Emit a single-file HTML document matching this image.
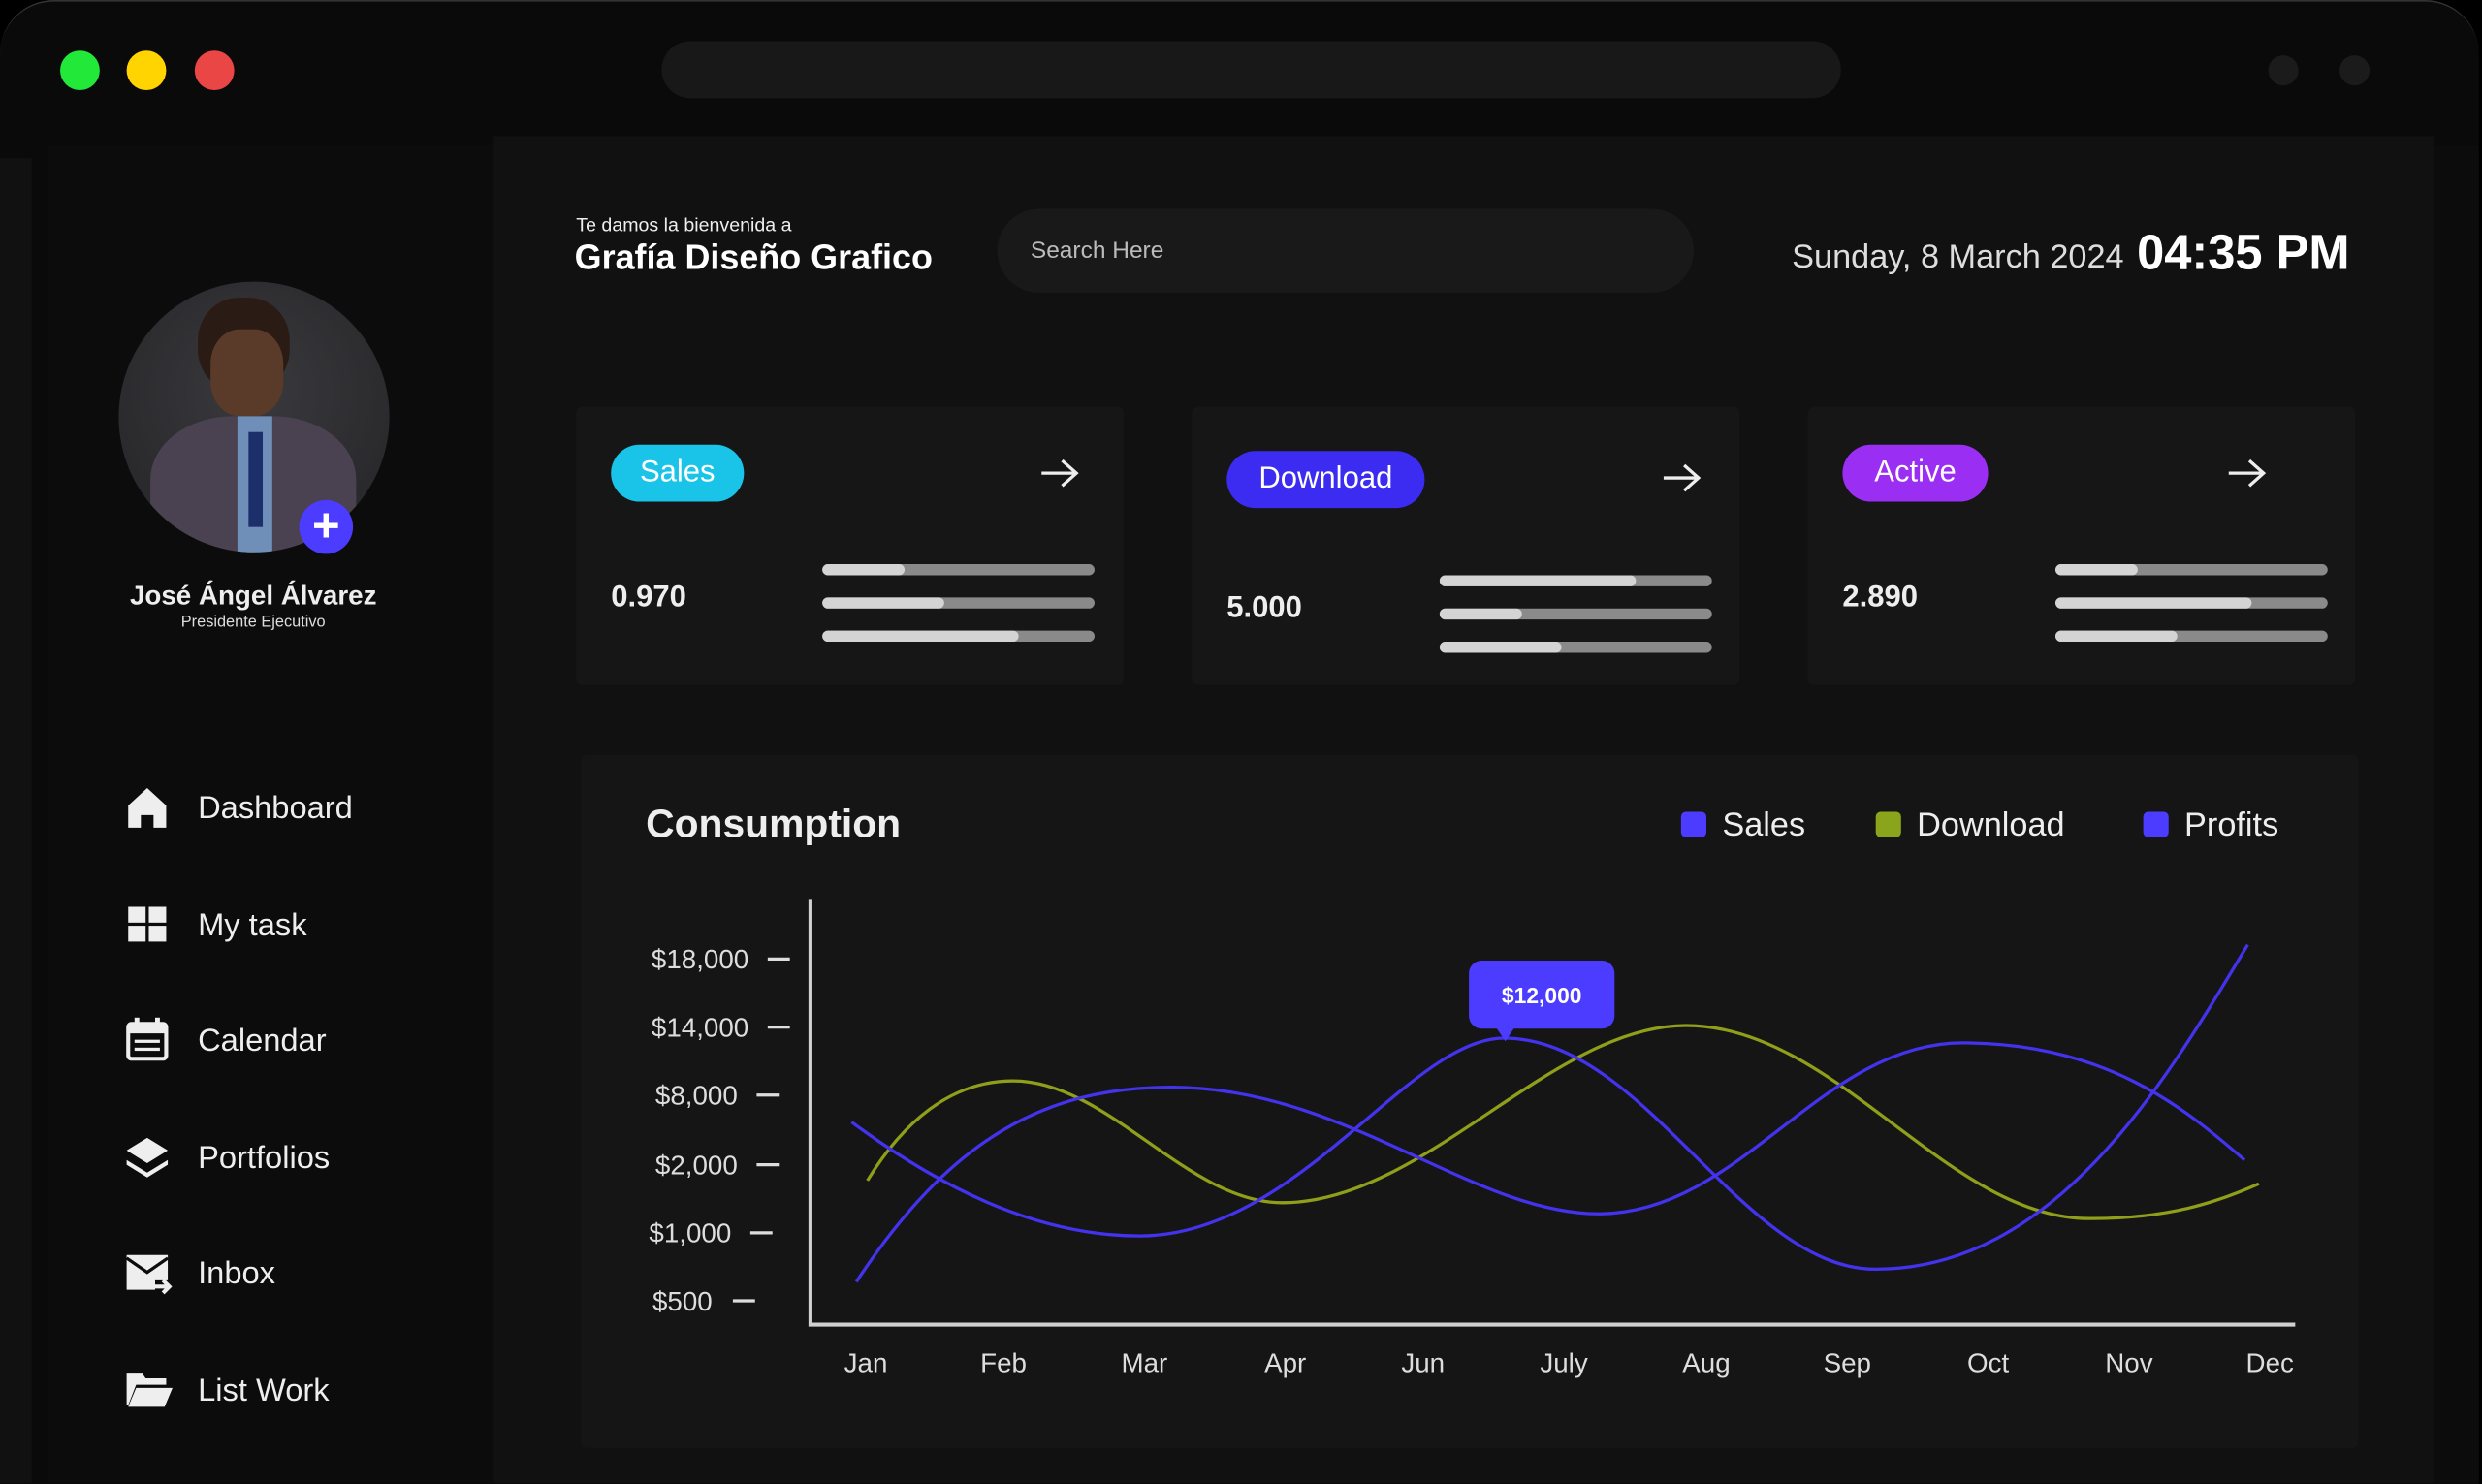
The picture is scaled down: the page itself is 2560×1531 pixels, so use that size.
<!DOCTYPE html>
<html><head><meta charset="utf-8"><style>
html,body{margin:0;padding:0;background:#000;width:2560px;height:1530px;overflow:hidden}
#s{position:absolute;left:0;top:0;width:1568px;height:937px;transform:scale(1.63265);transform-origin:0 0;font-family:"Liberation Sans",sans-serif;color:#eee}
.a{position:absolute}
.t{position:absolute;white-space:nowrap}
</style></head><body><div id="s">
<div class="a" style="left:0;top:0;width:1566px;height:937px;background:#0a0a0a;border-radius:34px 34px 0 0;border-top:1px solid #333"></div>
<div class="a" style="left:38px;top:32px;width:25px;height:25px;border-radius:50%;background:#22e83a"></div>
<div class="a" style="left:80px;top:32px;width:25px;height:25px;border-radius:50%;background:#ffd400"></div>
<div class="a" style="left:123px;top:32px;width:25px;height:25px;border-radius:50%;background:#ea4646"></div>
<div class="a" style="left:418px;top:26px;width:745px;height:36px;border-radius:18px;background:#181818"></div>
<div class="a" style="left:1433px;top:35px;width:19px;height:19px;border-radius:50%;background:#1b1b1b"></div>
<div class="a" style="left:1478px;top:35px;width:19px;height:19px;border-radius:50%;background:#1b1b1b"></div>
<div class="a" style="left:0;top:100px;width:20px;height:837px;background:#111"></div>
<div class="a" style="left:30px;top:92px;width:282px;height:845px;background:#0c0c0c"></div>
<div class="a" style="left:312px;top:86px;width:1226px;height:851px;background:#111"></div>
<div class="a" style="left:1538px;top:92px;width:28px;height:845px;background:#0c0c0c"></div>
<!-- avatar -->
<div class="a" style="left:75px;top:178px;width:171px;height:171px;border-radius:50%;background:radial-gradient(circle at 50% 40%,#3a3a3e,#232326);overflow:hidden">
 <div class="a" style="left:50px;top:10px;width:58px;height:60px;border-radius:45%;background:#2a1b14"></div>
 <div class="a" style="left:58px;top:30px;width:46px;height:55px;border-radius:40%;background:#5a3a28"></div>
 <div class="a" style="left:20px;top:85px;width:130px;height:100px;border-radius:40% 40% 0 0;background:#4a4250"></div>
 <div class="a" style="left:75px;top:85px;width:22px;height:90px;background:#6f8fb8"></div>
 <div class="a" style="left:82px;top:95px;width:9px;height:60px;background:#1c2f6a"></div>
</div>
<div class="a" style="left:189px;top:316px;width:34px;height:34px;border-radius:50%;background:#4b3cff"></div>
<div class="t" style="left:189px;top:316px;width:34px;line-height:34px;text-align:center;font-size:30px;font-weight:bold;color:#fff">+</div>
<div class="t" style="left:60px;width:200px;text-align:center;top:367px;font-size:17px;font-weight:bold;color:#eee">José Ángel Álvarez</div>
<div class="t" style="left:60px;width:200px;text-align:center;top:388px;font-size:10px;color:#ddd">Presidente Ejecutivo</div>
<!-- nav -->
<svg class="a" style="left:78px;top:495px" width="32" height="410" viewBox="0 0 32 410" fill="#eee">
<path d="M3,14 L15,3 L27,14 L27,28 L19,28 L19,20 L11,20 L11,28 L3,28Z"/>
<rect x="3" y="78" width="11" height="10"/><rect x="16" y="78" width="11" height="10"/><rect x="3" y="90" width="11" height="10"/><rect x="16" y="90" width="11" height="10"/>
<rect x="3" y="152" width="24" height="22" rx="2" fill="none" stroke="#eee" stroke-width="2.5"/><rect x="3" y="152" width="24" height="6"/><rect x="7" y="148" width="3" height="6"/><rect x="20" y="148" width="3" height="6"/><rect x="7" y="162" width="16" height="2"/><rect x="7" y="167" width="16" height="2"/>
<path d="M15,224 L28,232 L15,240 L2,232Z"/><path d="M2,238 L15,246 L28,238 L28,241 L15,249 L2,241Z"/>
<path d="M2,298 L28,298 L28,314 L20,314 L20,320 L2,320Z"/><path d="M2,300 L15,309 L28,300" stroke="#0c0c0c" stroke-width="2" fill="none"/><path d="M20,318 L29,318 M25,314 L29,318 L25,322" stroke="#eee" stroke-width="2.5" fill="none"/>
<path d="M2,373 L12,373 L14,376 L27,376 L27,380 L8,380 L3,393 L2,393Z"/><path d="M8,382 L31,382 L26,394 L3,394Z"/>
</svg>
<div class="t" style="left:125px;top:500px;font-size:20px;color:#eee">Dashboard</div>
<div class="t" style="left:125px;top:574px;font-size:20px;color:#eee">My task</div>
<div class="t" style="left:125px;top:647px;font-size:20px;color:#eee">Calendar</div>
<div class="t" style="left:125px;top:721px;font-size:20px;color:#eee">Portfolios</div>
<div class="t" style="left:125px;top:794px;font-size:20px;color:#eee">Inbox</div>
<div class="t" style="left:125px;top:868px;font-size:20px;color:#eee">List Work</div>
<!-- header -->
<div class="t" style="left:364px;top:135px;font-size:12px;color:#eee">Te damos la bienvenida a</div>
<div class="t" style="left:363px;top:150px;font-size:22px;font-weight:bold;color:#fff">Grafía Diseño Grafico</div>
<div class="a" style="left:630px;top:132px;width:440px;height:53px;border-radius:27px;background:#191919"></div>
<div class="t" style="left:651px;top:150px;font-size:15px;color:#bbb">Search Here</div>
<div class="t" style="left:1132px;top:151px;font-size:21px;color:#ddd">Sunday, 8 March 2024</div>
<div class="t" style="left:1350px;top:142px;font-size:31px;font-weight:bold;color:#fff">04:35 PM</div>
<!-- cards -->
<div class="a" style="left:364px;top:257px;width:346px;height:176px;background:#161616;border-radius:4px"></div>
<div class="a" style="left:753px;top:257px;width:346px;height:176px;background:#161616;border-radius:4px"></div>
<div class="a" style="left:1142px;top:257px;width:346px;height:176px;background:#161616;border-radius:4px"></div>
<div class="t" style="left:386px;top:281px;width:84px;height:36px;line-height:36px;text-align:center;border-radius:18px;background:#1ac4e8;font-size:19px;color:#fff">Sales</div>
<div class="t" style="left:775px;top:285px;width:125px;height:36px;line-height:36px;text-align:center;border-radius:18px;background:#3c2cf2;font-size:19px;color:#fff">Download</div>
<div class="t" style="left:1164px;top:281px;width:92px;height:36px;line-height:36px;text-align:center;border-radius:18px;background:#9a2ef2;font-size:19px;color:#fff">Active</div>
<svg class="a" style="left:0;top:0" width="1568" height="937">
<g stroke="#eee" stroke-width="2" fill="none"><path d="M658,299 H680 M671,291 L680,299 L671,307"/><path d="M1051,302 H1073 M1064,294 L1073,302 L1064,310"/><path d="M1408,299 H1430 M1421,291 L1430,299 L1421,307"/></g>
<g stroke-linecap="round" stroke-width="7">
<g stroke="#8a8a8a"><path d="M523,360H688M523,381H688M523,402H688M913,367H1078M913,388H1078M913,409H1078M1302,360H1467M1302,381H1467M1302,402H1467"/></g>
<g stroke="#d4d4d4"><path d="M523,360H568M523,381H593M523,402H640M913,367H1030M913,388H958M913,409H983M1302,360H1347M1302,381H1419M1302,402H1372"/></g>
</g></svg>
<div class="t" style="left:386px;top:367px;font-size:19px;font-weight:bold;color:#eee">0.970</div>
<div class="t" style="left:775px;top:374px;font-size:19px;font-weight:bold;color:#eee">5.000</div>
<div class="t" style="left:1164px;top:367px;font-size:19px;font-weight:bold;color:#eee">2.890</div>
<!-- chart -->
<div class="a" style="left:367px;top:477px;width:1123px;height:438px;background:#151515;border-radius:4px"></div>
<div class="t" style="left:408px;top:507px;font-size:25px;font-weight:bold;color:#eee">Consumption</div>
<div class="a" style="left:1062px;top:513px;width:16px;height:16px;border-radius:3px;background:#4b3cff"></div>
<div class="a" style="left:1185px;top:513px;width:16px;height:16px;border-radius:3px;background:#8aa51c"></div>
<div class="a" style="left:1354px;top:513px;width:16px;height:16px;border-radius:3px;background:#4b3cff"></div>
<div class="t" style="left:1088px;top:510px;font-size:21px;color:#eee">Sales</div>
<div class="t" style="left:1211px;top:510px;font-size:21px;color:#eee">Download</div>
<div class="t" style="left:1380px;top:510px;font-size:21px;color:#eee">Profits</div>
<svg class="a" style="left:0;top:0" width="1568" height="937" font-family="Liberation Sans" font-size="17" fill="#ddd">
<path d="M512,568 V837 H1450" stroke="#d0d0d0" stroke-width="2.5" fill="none"/>
<g stroke="#ddd" stroke-width="2"><path d="M485,606H499M485,649H499M478,692H492M478,736H492M474,779H488M463,822H477"/></g>
<g text-anchor="end"><text x="473" y="612">$18,000</text><text x="473" y="655">$14,000</text><text x="466" y="698">$8,000</text><text x="466" y="742">$2,000</text><text x="462" y="785">$1,000</text><text x="450" y="828">$500</text></g>
<g text-anchor="middle"><text x="547" y="867">Jan</text><text x="634" y="867">Feb</text><text x="723" y="867">Mar</text><text x="812" y="867">Apr</text><text x="899" y="867">Jun</text><text x="988" y="867">July</text><text x="1078" y="867">Aug</text><text x="1167" y="867">Sep</text><text x="1256" y="867">Oct</text><text x="1345" y="867">Nov</text><text x="1434" y="867">Dec</text></g>
<g fill="none" stroke-width="2">
<path stroke="#8f9f1a" d="M548,746 C570,710 600,683 640,683 C700,683 750,760 810,760 C900,760 980,648 1065,648 C1160,648 1230,770 1320,770 C1370,770 1400,760 1427,748"/>
<path stroke="#4433ee" d="M538,709 C600,755 660,781 720,781 C820,781 890,656 950,656 C1040,656 1100,802 1185,802 C1300,802 1370,680 1420,597"/>
<path stroke="#4433ee" d="M541,810 C600,720 660,687 740,687 C850,687 930,767 1010,767 C1100,767 1150,659 1240,659 C1330,659 1380,700 1418,733"/>
</g>
<rect x="928" y="607" width="92" height="43" rx="8" fill="#4b3cff"/>
<path d="M945,649 L951,658 L957,649Z" fill="#4b3cff"/>
<text x="974" y="634" text-anchor="middle" fill="#fff" font-size="14" font-weight="bold">$12,000</text>
</svg>
</div></body></html>
